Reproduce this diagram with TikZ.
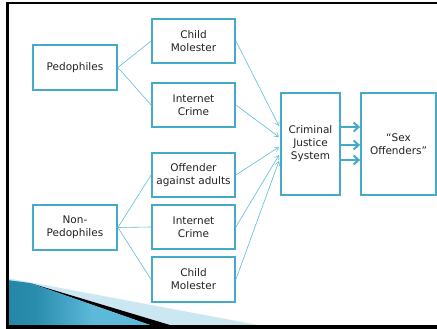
\documentclass[tikz,border=0pt]{standalone}
\usepackage{fontspec}
\setmainfont{DejaVu Sans}
\usetikzlibrary{arrows.meta}
\definecolor{bx}{HTML}{45A9C8}
\definecolor{ln}{HTML}{5DBFDC}
\definecolor{wd}{HTML}{1A7390}
\definecolor{wl}{HTML}{5CB9DA}
\definecolor{wm}{HTML}{2A8DAE}
\definecolor{lb}{HTML}{CBE7F1}
\definecolor{tx}{HTML}{222222}
\pgfdeclarehorizontalshading{wedgeshade}{100bp}{color(0bp)=(wd); color(35bp)=(wm); color(55bp)=(wl); color(75bp)=(wl); color(100bp)=(wm)}
\tikzset{
  box/.style={draw=bx, line width=1.8pt, fill=white, align=center, text=tx,
    font=\fontsize{10.5}{13}\selectfont, inner sep=1pt},
  thin/.style={draw=ln, line width=0.6pt},
  tarr/.style={thin, -{Straight Barb[length=4pt,width=5pt]}},
  thick/.style={draw=bx, line width=2pt, -{Straight Barb[length=5pt,width=9pt,line width=2pt]}}
}
\begin{document}
\begin{tikzpicture}[x=1pt,y=-1pt]
\useasboundingbox (0,0) rectangle (437,329);
\fill[white] (0,0) rectangle (437,329);
% bottom-left decoration
\fill[lb] (7,278) -- (258,325) -- (7,325) -- cycle;
\fill[black] (30,283) -- (170,325) -- (150,325) -- cycle;
\shade[shading=wedgeshade] (7,280) -- (30,283) -- (150,325) -- (7,325) -- cycle;
% frame
\fill[black] (6,2) rectangle (437,4.5);
\fill[black] (6,2) rectangle (8.5,329);
\fill[black] (6,325) rectangle (437,329);
% boxes
\node[box, minimum width=84, minimum height=45] (ped) at (75,67.5) {Pedophiles};
\node[box, minimum width=84, minimum height=45] (non) at (75,227.5) {Non-\\Pedophiles};
\node[box, minimum width=83, minimum height=44] (cm1) at (193.5,41) {Child\\Molester};
\node[box, minimum width=83, minimum height=44] (ic1) at (193.5,105) {Internet\\Crime};
\node[box, minimum width=83, minimum height=44] (off) at (193.5,175) {Offender\\against adults};
\node[box, minimum width=83, minimum height=44] (ic2) at (193.5,227) {Internet\\Crime};
\node[box, minimum width=83, minimum height=45] (cm2) at (193.5,279.5) {Child\\Molester};
\node[box, minimum width=59, minimum height=102] (cjs) at (310.5,144) {Criminal\\Justice\\System};
\node[box, minimum width=75, minimum height=102] (sex) at (398.5,144) {“Sex\\Offenders”};
% endpoints on CJS
\coordinate (e1) at (279,126);
\coordinate (e2) at (279,137);
\coordinate (e3) at (279,147);
\coordinate (e4) at (279,155);
\coordinate (e5) at (279,161);
% connectors
\draw[thin] (ped.east) -- (cm1.west);
\draw[thin] (ped.east) -- (ic1.west);
\draw[thin] (non.east) -- (off.west);
\draw[thin] (non.east) -- (ic2.west);
\draw[thin] (non.east) -- (cm2.west);
\draw[tarr] (cm1.east) -- (e1);
\draw[tarr] (ic1.east) -- (e2);
\draw[tarr] (off.east) -- (e3);
\draw[tarr] (ic2.east) -- (e4);
\draw[tarr] (cm2.east) -- (e5);
\draw[thick] ([yshift=17pt]cjs.east) -- ([yshift=17pt]sex.west);
\draw[thick] ([yshift=-1pt]cjs.east) -- ([yshift=-1pt]sex.west);
\draw[thick] ([yshift=-16pt]cjs.east) -- ([yshift=-16pt]sex.west);
\end{tikzpicture}
\end{document}
